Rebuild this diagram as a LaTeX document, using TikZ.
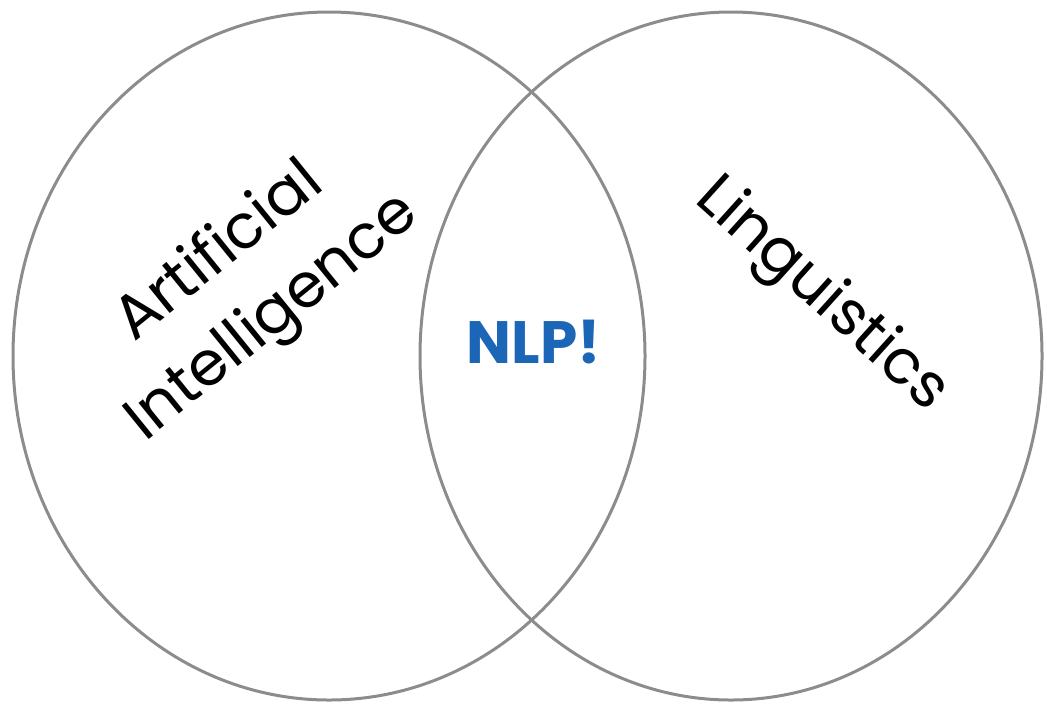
\documentclass[tikz,border=0pt]{standalone}
\usepackage{fontspec}
\setsansfont{Poppins}[Ligatures=NoCommon]
\usepackage{tikz}
\usetikzlibrary{shapes.geometric,positioning}
\definecolor{ringgray}{HTML}{8C8C8C}
\definecolor{nlpblue}{HTML}{1B66B6}

\begin{document}
\begin{tikzpicture}[node distance=8.04cm,on grid,
  ring/.style={ellipse,draw=ringgray,line width=0.06cm,inner sep=0pt,minimum height=13.76cm},
  lbl/.style={font=\sffamily\fontsize{35}{48}\selectfont,align=center,inner sep=0pt}]
\useasboundingbox (0,0) rectangle (20.94,-14.08);
\node[ring,minimum width=12.64cm](ai_r) at (6.58,-7.12) {};
\node[ring,minimum width=12.44cm](li_r)[right=of ai_r]{};
\node[lbl,rotate=39](ai_t) at (4.94,-5.72) {Artificial\\Intelligence};
\node[lbl,rotate=-42](li_t) at (16.42,-5.92) {Linguistics};
\node[font=\sffamily\bfseries\fontsize{34}{38}\selectfont,text=nlpblue,inner sep=0pt](nlp) at (10.68,-6.84) {NLP!};
\end{tikzpicture}
\end{document}
